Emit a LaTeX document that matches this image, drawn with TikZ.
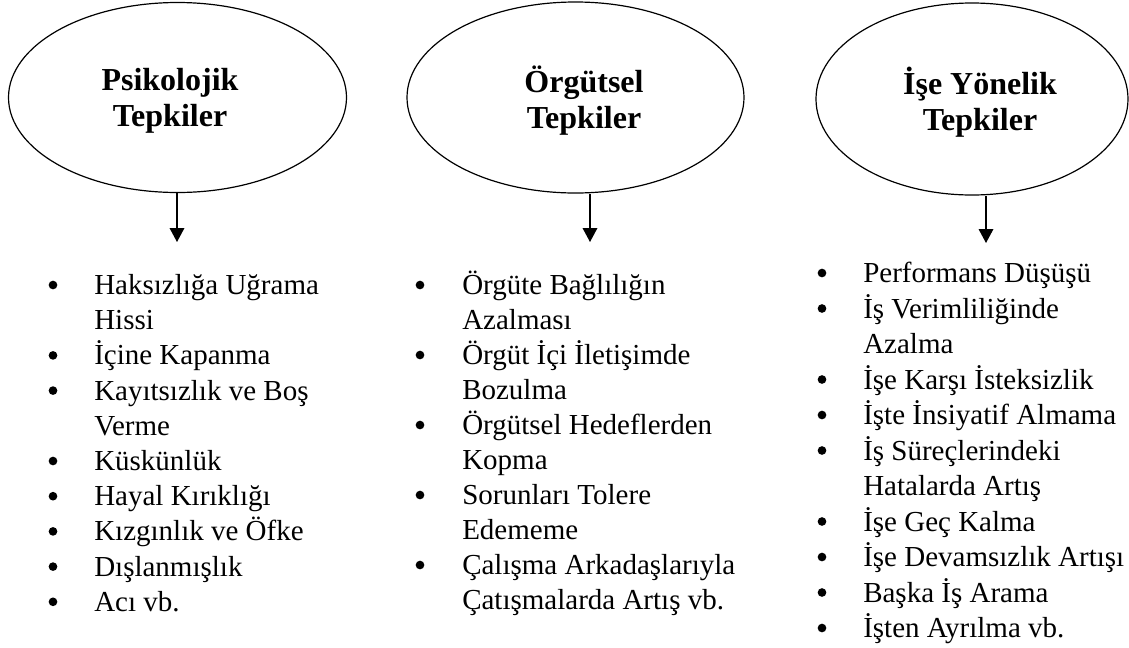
\documentclass[tikz,border=0pt]{standalone}
\usepackage{fontspec}
\setmainfont{Liberation Serif}
\usetikzlibrary{positioning}
\usetikzlibrary{positioning, arrows.meta}
\usetikzlibrary{shapes}

\tikzset{
	tepki/.style={draw, ellipse, line width=0.9pt, inner sep=0pt, minimum width=253.5pt, minimum height=142.5pt},
	baslik/.style={align=center, inner sep=0pt, font=\bfseries\fontsize{24}{27}\selectfont},
	satir/.style={anchor=base west, inner sep=0pt, font=\fontsize{21.75}{26.5}\selectfont},
	nokta/.style={circle, fill, inner sep=0pt, minimum size=6.5pt},
	ok/.style={-{Triangle[width=11pt,length=10.5pt]}, line width=1pt}
}

\begin{document}
\begin{tikzpicture}[x=0.75pt,y=-0.75pt]
					\useasboundingbox (0,0) rectangle (1129,647);
					\node[tepki] (psi) at (177.5,97.5) {};
					\node[tepki, minimum width=252.75pt, minimum height=143.25pt] (org) at (575.5,97.5) {};
					\node[tepki, minimum width=234pt, minimum height=144pt] (ise) at (972,99) {};
					\node[baslik] (psiad) at (170,101) {Psikolojik\\Tepkiler};
					\node[baslik] (orgad) at (584,101) {Örgütsel\\Tepkiler};
					\node[baslik] (isead) at (980,102) {İşe Yönelik\\Tepkiler};
					\coordinate (psiuc) at (177,242);
					\coordinate (orguc) at (590,242);
					\coordinate (iseuc) at (986,243);
					\draw[ok] (psiuc |- psi.south) -- (psiuc);
					\draw[ok] (orguc |- org.south) -- (orguc);
					\draw[ok] (iseuc |- ise.south) -- (iseuc);
					%psikolojik
					\foreach \b/\t [count=\i from 0] in {1/Haksızlığa Uğrama, 0/Hissi, 1/İçine Kapanma, 1/Kayıtsızlık ve Boş, 0/Verme, 1/Küskünlük, 1/Hayal Kırıklığı, 1/Kızgınlık ve Öfke, 1/Dışlanmışlık, 1/Acı vb.}{
						\node[satir] (p\i) at (94,294.5+35.2*\i) {\t};
						\ifnum\b=1 \node[nokta] (pn\i) at (53,285+35.2*\i) {}; \fi
					}
					%orgutsel
					\foreach \b/\t [count=\i from 0] in {1/Örgüte Bağlılığın, 0/Azalması, 1/Örgüt İçi İletişimde, 0/Bozulma, 1/Örgütsel Hedeflerden, 0/Kopma, 1/Sorunları Tolere, 0/Edememe, 1/Çalışma Arkadaşlarıyla, 0/Çatışmalarda Artış vb.}{
						\node[satir] (o\i) at (462,294.5+35*\i) {\t};
						\ifnum\b=1 \node[nokta] (on\i) at (420,285+35*\i) {}; \fi
					}
					%ise yonelik
					\foreach \b/\t [count=\i from 0] in {1/Performans Düşüşü, 1/İş Verimliliğinde, 0/Azalma, 1/İşe Karşı İsteksizlik, 1/İşte İnsiyatif Almama, 1/İş Süreçlerindeki, 0/Hatalarda Artış, 1/İşe Geç Kalma, 1/İşe Devamsızlık Artışı, 1/Başka İş Arama, 1/İşten Ayrılma vb.}{
						\node[satir] (i\i) at (863,282.5+35.5*\i) {\t};
						\ifnum\b=1 \node[nokta] (in\i) at (822,273+35.5*\i) {}; \fi
					}
				\end{tikzpicture}
\end{document}
